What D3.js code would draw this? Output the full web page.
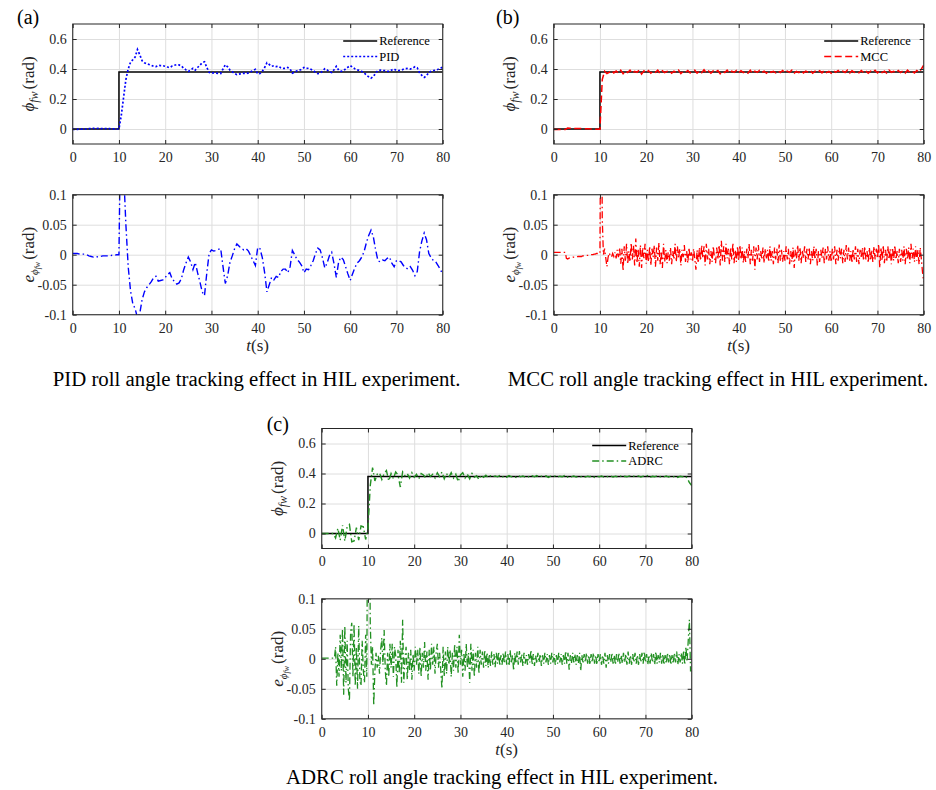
<!DOCTYPE html>
<html>
<head>
<meta charset="utf-8">
<script src="https://cdn.jsdelivr.net/npm/d3@7"></script>
<style>
  body { margin: 0; background: #fff; }
  svg { display: block; }
  text { font-family: "Liberation Serif", "Times New Roman", serif; }
</style>
</head>
<body>
<svg id="fig" width="936" height="790"></svg>
<script>
// ---- data (angles and errors in mrad) ----
const slowStep = 0.5;   // s, sampling of PID traces and of the angle traces
const fastStep = 0.25;  // s, sampling of MCC / ADRC error traces

const xTicks = [0, 10, 20, 30, 40, 50, 60, 70, 80];
const angleTicks = [0, 200, 400, 600];
const errorTicks = [-100, -50, 0, 50, 100];

const refTime = [0, 10, 10, 80];
const refAngle = [0, 0, 380, 380];

// one row = 5 s
const pidAngle = [
  -2, -2, -2, -1, -1, -1, 0, 2, 3, 4,
  3, 4, 3, 2, 2, 2, 2, 1, 1, 0,
  0, 90, 210, 330, 400, 445, 462, 480, 530, 495,
  455, 442, 435, 430, 425, 418, 416, 424, 423, 422,
  418, 413, 410, 420, 425, 429, 427, 420, 405, 394,
  384, 392, 405, 393, 410, 425, 442, 448, 410, 378,
  372, 374, 373, 371, 370, 400, 428, 415, 393, 382,
  370, 362, 366, 370, 372, 370, 374, 382, 390, 398,
  368, 370, 385, 410, 442, 430, 418, 422, 416, 418,
  408, 404, 404, 410, 400, 373, 380, 388, 392, 398,
  410, 404, 405, 398, 390, 378, 369, 372, 385, 402,
  394, 382, 376, 395, 418, 392, 384, 388, 400, 412,
  423, 412, 402, 394, 390, 384, 375, 360, 348, 339,
  350, 372, 390, 392, 389, 390, 386, 384, 394, 400,
  390, 390, 392, 398, 402, 404, 400, 406, 415, 408,
  375, 357, 344, 355, 378, 385, 390, 392, 398, 405,
  412
];
const pidError = [
  2, 2, 2, 1, 1, 1, 0, -2, -3, -4,
  -3, -4, -3, -2, -2, -2, -2, -1, -1, 0,
  0, 300, 140, 50, -20, -60, -82, -90, -105, -98,
  -75, -62, -55, -50, -45, -38, -36, -44, -43, -42,
  -38, -33, -30, -40, -45, -49, -47, -40, -25, -14,
  -4, -12, -25, -13, -30, -45, -62, -68, -30, 2,
  8, 6, 7, 9, 10, -20, -48, -35, -13, -2,
  10, 18, 14, 10, 8, 10, 6, -2, -10, -18,
  12, 10, -5, -30, -62, -50, -38, -42, -36, -38,
  -28, -24, -24, -30, -20, 7, 0, -8, -12, -18,
  -30, -24, -25, -18, -10, 2, 11, 8, -5, -22,
  -14, -2, 4, -15, -38, -12, -4, -8, -20, -32,
  -43, -32, -22, -14, -10, -4, 5, 20, 32, 41,
  30, 8, -10, -12, -9, -10, -6, -4, -14, -20,
  -10, -10, -12, -18, -22, -24, -20, -26, -35, -28,
  5, 23, 36, 25, 2, -5, -10, -12, -18, -25,
  -32
];

const mccAngle = [
  -4, -4, -4, -4, -4, -4, 6, 5, 5, 4,
  4, 3, 3, 2, 2, 1, 0, 0, -1, -2,
  -2, 330, 385, 370, 378, 390, 374, 386, 372, 392,
  368, 388, 376, 392, 370, 384, 378, 394, 366, 388,
  374, 390, 372, 386, 378, 392, 370, 388, 376, 384,
  390, 372, 386, 376, 392, 370, 384, 378, 390, 374,
  386, 392, 372, 388, 376, 395, 374, 386, 372, 388,
  378, 390, 368, 384, 376, 392, 372, 386, 378, 390,
  374, 388, 376, 384, 372, 392, 370, 386, 378, 390,
  376, 386, 372, 390, 378, 384, 374, 388, 376, 390,
  374, 386, 378, 392, 372, 384, 376, 390, 374, 386,
  378, 390, 372, 386, 376, 388, 374, 392, 376, 384,
  372, 388, 378, 390, 374, 386, 376, 392, 372, 388,
  378, 384, 374, 390, 376, 388, 372, 386, 378, 392,
  374, 390, 376, 386, 372, 392, 378, 384, 374, 390,
  376, 388, 372, 392, 378, 386, 374, 390, 378, 400,
  425
];
const mccError = [
  4, 4, 4, 4, 4, 4, 4, 4, 4, 4, 4, -6, -7, -6, -5, -5, -5, -4, -4, -4,
  -4, -3, -3, -3, -3, -2, -2, -2, -2, -1, -1, -1, 0, 0, 0, 1, 1, 2, 2, 2,
  2, 380, 60, 0, 10, -5, -20, -5, 3, -2, -4, 2, -3, 4, -6, 8, -4, 12, -15, 10,
  -27, 14, -10, 18, -16, 6, -12, 20, -8, 15, -18, 27, -14, 10, -20, 16, -22, 12, -6, 18,
  -15, 8, -12, 14, -18, 10, -4, 16, -20, 12, -10, 20, -16, 6, -22, 18, -12, 8, -14, 4,
  -10, 12, -16, 6, -8, 18, -12, 14, -6, 10, -18, 8, -4, 16, -12, 6, -14, 12, -8, 4,
  -12, 10, -6, -25, 8, -14, 12, -10, 16, -6, 14, -18, 18, -8, 10, -16, 6, -12, 14, -4,
  -14, 12, -8, 16, -18, 23, -10, 14, -12, 18, -6, 10, -16, 12, -8, 20, -14, 8, -12, 14,
  -10, 16, -8, 12, -14, 6, -12, 10, -6, 18, -16, 8, -10, 14, -25, 12, -8, 16, -12, 6,
  -8, 12, -14, 10, -6, 8, -12, 14, -10, 6, -16, 12, -8, 10, -14, 17, -10, 8, -12, 6,
  -10, 14, -8, 10, -16, 6, -12, 12, -22, 8, -6, 16, -10, 12, -14, 8, -6, 14, -12, 10,
  -8, 12, -16, 6, -10, 14, -8, 10, -18, 6, -12, 8, -6, 12, -14, 10, -8, 14, -10, 6,
  -12, 10, -8, 14, -16, 8, -10, 12, -6, 10, -14, 8, -12, 16, -8, 12, -10, 6, -14, 10,
  -8, 14, -12, 10, -16, 8, -6, 12, -10, 14, -8, 6, -14, 12, -10, 8, -12, 14, -8, 10,
  -6, 18, -22, 12, -10, 16, -14, 8, -12, 14, -8, 10, -16, 12, -10, 16, -8, 6, -14, 10,
  -12, 8, -10, 14, -16, 10, -8, 12, -14, 18, -6, 10, -12, 14, -10, 8, -16, 12, -8, -30,
  -45
];

const adrcAngle = [
  0, 0, 0, 0, 0, 0, -30, 35, -45, 55,
  -50, 45, 60, -55, -50, 40, -45, 50, 45, -40,
  30, 320, 440, 350, 395, 405, 360, 400, 420, 350,
  400, 365, 410, 390, 310, 410, 385, 400, 370, 405,
  375, 395, 365, 400, 390, 370, 405, 380, 395, 370,
  405, 380, 410, 365, 400, 375, 405, 370, 395, 345,
  390, 405, 370, 395, 365, 400, 375, 385, 360, 390,
  375, 388, 372, 385, 376, 384, 378, 386, 374, 384,
  376, 386, 378, 382, 374, 386, 378, 384, 376, 382,
  374, 384, 378, 386, 376, 382, 378, 384, 374, 382,
  378, 384, 376, 382, 378, 386, 374, 382, 378, 384,
  376, 382, 378, 384, 376, 382, 378, 386, 374, 382,
  378, 384, 376, 382, 378, 384, 376, 382, 378, 386,
  374, 382, 378, 384, 376, 382, 378, 384, 376, 382,
  378, 386, 374, 382, 378, 384, 376, 382, 378, 384,
  376, 382, 378, 384, 374, 382, 378, 386, 370, 340,
  320
];
const adrcError = [
  1, 1, 1, 1, 1, 1, 1, 1, 1, 1, 1, 1, 20, -45, 10, -30, 40, -20, 50, -60,
  55, -40, 30, -50, -70, 45, 60, -30, 58, -45, 20, -50, 55, -35, -45, 30, -20, -40, 40, -30,
  380, 300, 60, -10, 20, -78, -20, 10, -15, 5, -25, 15, 35, -10, 48, -20, -45, 10, -30, 25,
  -15, 25, -30, 20, 5, -48, 15, -25, 30, -40, 65, -40, 0, 20, -35, 10, -20, 15, -35, 8,
  -20, 20, -10, 15, -25, 20, -30, 10, -15, 28, -20, 12, -35, 15, -20, 25, -10, 20, -25, 10,
  25, -15, 10, -20, -50, 20, -30, 12, -25, 20, -10, 15, -30, 10, -20, 25, -15, 20, -25, 40,
  -10, 15, -30, 10, -20, 25, -15, 10, -40, 25, -20, 15, -30, 10, -15, 20, -25, 15, -10, 12,
  -15, 15, -12, 10, -15, 8, -12, 12, -10, 8, -14, 10, -8, 12, -12, 6, -10, 10, -8, 12,
  -10, 8, -12, 14, -8, 6, -20, 10, -8, 12, -10, 13, -6, 8, -12, 10, -8, 6, -10, 8,
  -6, 15, -10, 8, -12, 6, -8, 10, -6, 8, -12, 6, -8, 10, -6, 8, -10, 6, -8, 10,
  -6, 8, -10, 6, -8, 10, -6, 8, -10, 6, -8, 13, -8, 10, -18, 6, -8, 10, -6, 8,
  -10, 6, -8, 10, -20, 6, -8, 8, -6, 10, -8, 6, -10, 8, -6, 10, -8, 6, -10, 8,
  -6, 8, -10, 6, -8, 10, -15, 6, -8, 8, -6, 10, -8, 6, -10, 8, -6, 10, -8, 6,
  -8, 10, -6, 8, -10, 12, -8, 6, -10, 8, -6, 10, -8, 6, -10, 8, -6, 10, -8, 12,
  -6, 8, -10, 6, -8, 10, -6, 8, -10, 12, -8, 6, -6, 10, -8, 8, -10, 6, -8, 10,
  -6, 8, -10, 6, -8, 10, -6, 12, -10, 8, -6, 10, -8, 14, -10, 20, -5, 30, 65, -20,
  -20
];

const captions = [
  "PID roll angle tracking effect in HIL experiment.",
  "MCC roll angle tracking effect in HIL experiment.",
  "ADRC roll angle tracking effect in HIL experiment."
];

// ---- drawing ----
const svg = d3.select("#fig");
const W = 370, H = 120;
const ink = "#262626";

const x = d3.scaleLinear().domain([0, 80]).range([0, W]);
const yAngle = d3.scaleLinear().domain([-100, 700]).range([H, 0]);
const yError = d3.scaleLinear().domain([-100, 100]).range([H, 0]);

function toPoints(vals, dt) {
  return vals.map((v, i) => ({ t: i * dt, v: v }));
}
const refPoints = refTime.map((t, i) => ({ t: t, v: refAngle[i] }));

let clipCount = 0;
function styleAxis(a) {
  a.attr("color", ink).attr("font-family", "Liberation Serif, serif").attr("font-size", 14);
  a.select(".domain").remove();
}

function drawPlot(left, top, y, yTicks, lines) {
  const g = svg.append("g").attr("transform", `translate(${left},${top})`);

  // grid
  g.append("g").attr("color", "#dedede")
    .call(d3.axisBottom(x).tickValues(xTicks).tickSize(H).tickFormat(""))
    .call(a => a.select(".domain").remove());
  g.append("g").attr("color", "#dedede")
    .call(d3.axisRight(y).tickValues(yTicks).tickSize(W).tickFormat(""))
    .call(a => a.select(".domain").remove());

  // traces
  const id = "clip" + (clipCount++);
  g.append("clipPath").attr("id", id).append("rect").attr("width", W).attr("height", H);
  const line = d3.line().x(d => x(d.t)).y(d => y(d.v));
  g.append("g").attr("clip-path", `url(#${id})`)
    .selectAll("path").data(lines).join("path")
    .attr("d", d => line(d.points))
    .attr("fill", "none")
    .attr("stroke", d => d.color)
    .attr("stroke-width", d => d.width)
    .attr("stroke-dasharray", d => d.dash);

  // box and inward ticks
  g.append("rect").attr("width", W).attr("height", H)
    .attr("fill", "none").attr("stroke", ink).attr("stroke-width", 1);
  g.append("g").attr("transform", `translate(0,${H})`)
    .call(d3.axisBottom(x).tickValues(xTicks).tickSizeInner(-4).tickSizeOuter(0).tickPadding(8))
    .call(styleAxis);
  g.append("g")
    .call(d3.axisTop(x).tickValues(xTicks).tickSizeInner(-4).tickSizeOuter(0).tickFormat(""))
    .call(styleAxis);
  g.append("g")
    .call(d3.axisLeft(y).tickValues(yTicks).tickSizeInner(-4).tickSizeOuter(0).tickPadding(6)
      .tickFormat(d => String(d / 1000)))
    .call(styleAxis);
  g.append("g").attr("transform", `translate(${W},0)`)
    .call(d3.axisRight(y).tickValues(yTicks).tickSizeInner(-4).tickSizeOuter(0).tickFormat(""))
    .call(styleAxis);
  return g;
}

function angleLabel(g) {
  const t = g.append("text").attr("transform", `translate(-38.5,${H / 2}) rotate(-90)`)
    .attr("text-anchor", "middle").attr("font-size", 17).attr("fill", ink);
  t.append("tspan").attr("font-style", "italic").text("ϕ");
  t.append("tspan").attr("font-style", "italic").attr("font-size", 12).attr("dy", 4).text("fw");
  t.append("tspan").attr("dy", -4).attr("dx", 2).text("(rad)");
}

function errorLabel(g) {
  const t = g.append("text").attr("transform", `translate(-38.5,${H / 2}) rotate(-90)`)
    .attr("text-anchor", "middle").attr("font-size", 17).attr("fill", ink);
  t.append("tspan").attr("font-style", "italic").text("e");
  t.append("tspan").attr("font-style", "italic").attr("font-size", 11).attr("dy", 4).text("ϕ");
  t.append("tspan").attr("font-style", "italic").attr("font-size", 8).attr("dy", 2).text("fw");
  t.append("tspan").attr("dy", -6).attr("dx", 2).text("(rad)");
}

function timeLabel(g) {
  const t = g.append("text").attr("x", W / 2).attr("y", H + 36.5)
    .attr("text-anchor", "middle").attr("font-size", 17).attr("fill", ink);
  t.append("tspan").attr("font-style", "italic").text("t");
  t.append("tspan").text("(s)");
}

function legend(g, items) {
  items.forEach((it, i) => {
    const yy = 17 + i * 15.5;
    g.append("line").attr("x1", W - 99.5).attr("x2", W - 65.5).attr("y1", yy).attr("y2", yy)
      .attr("stroke", it.color).attr("stroke-width", it.width).attr("stroke-dasharray", it.dash);
    g.append("text").attr("x", W - 63.5).attr("y", yy + 4.2)
      .attr("font-size", 12.5).attr("fill", "#000").text(it.name);
  });
}

const refLine = { points: refPoints, color: "#000", width: 1.5, dash: null, name: "Reference" };
const dashDot = "7,3,1.5,3";

const panels = [
  { left: 72.7, top: 24, bottom: 194.7, letter: "(a)", lx: 17, ly: 24, cap: captions[0], cx: 256.6, cy: 386,
    angle: { points: toPoints(pidAngle, slowStep), color: "#0000ff", width: 1.7, dash: "2,2", name: "PID" },
    error: { points: toPoints(pidError, slowStep), color: "#0000ff", width: 1.4, dash: dashDot } },
  { left: 553.7, top: 24, bottom: 194.7, letter: "(b)", lx: 496, ly: 24, cap: captions[1], cx: 718, cy: 386,
    angle: { points: toPoints(mccAngle, slowStep), color: "#ff0000", width: 1.5, dash: "7,3.5", name: "MCC" },
    error: { points: toPoints(mccError, fastStep), color: "#ff0000", width: 1.3, dash: dashDot } },
  { left: 321.7, top: 428.5, bottom: 598.8, letter: "(c)", lx: 266.7, ly: 430.5, cap: captions[2], cx: 502, cy: 784,
    angle: { points: toPoints(adrcAngle, slowStep), color: "#229022", width: 1.4, dash: dashDot, name: "ADRC" },
    error: { points: toPoints(adrcError, fastStep), color: "#229022", width: 1.3, dash: dashDot } }
];

panels.forEach(p => {
  const gTop = drawPlot(p.left, p.top, yAngle, angleTicks, [refLine, p.angle]);
  angleLabel(gTop);
  legend(gTop, [refLine, p.angle]);

  const gBot = drawPlot(p.left, p.bottom, yError, errorTicks, [p.error]);
  errorLabel(gBot);
  timeLabel(gBot);

  svg.append("text").attr("x", p.lx).attr("y", p.ly)
    .attr("font-family", "Liberation Sans, Arial, sans-serif").attr("font-size", 20)
    .attr("fill", "#000").text(p.letter);
  svg.append("text").attr("x", p.cx).attr("y", p.cy).attr("text-anchor", "middle")
    .attr("font-size", 20.8).attr("fill", "#000").text(p.cap);
});
</script>
</body>
</html>
